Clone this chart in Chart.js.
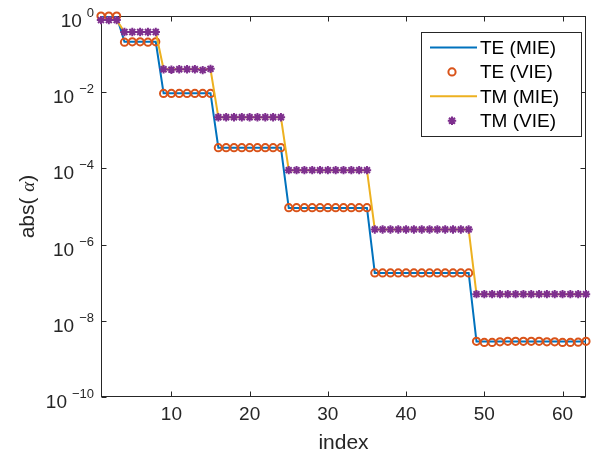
<!DOCTYPE html>
<html>
<head>
<meta charset="utf-8">
<script src="https://cdn.jsdelivr.net/npm/chart.js@4"></script>
<style>
  html, body { margin: 0; padding: 0; background: #fff; }
  canvas { display: block; }
</style>
</head>
<body>
<canvas id="c" width="601" height="457"></canvas>
<script>
// index values
const index = [1, 2, 3, 4, 5, 6, 7, 8, 9, 10, 11, 12, 13, 14, 15, 16, 17, 18, 19, 20,
  21, 22, 23, 24, 25, 26, 27, 28, 29, 30, 31, 32, 33, 34, 35, 36, 37, 38, 39, 40,
  41, 42, 43, 44, 45, 46, 47, 48, 49, 50, 51, 52, 53, 54, 55, 56, 57, 58, 59, 60,
  61, 62, 63];

// TE (MIE) - line
const teMie = [0.98, 0.98, 0.98,
  0.21, 0.21, 0.21, 0.21, 0.21,
  0.0094, 0.0094, 0.0094, 0.0094, 0.0094, 0.0094, 0.0094,
  3.5e-4, 3.5e-4, 3.5e-4, 3.5e-4, 3.5e-4, 3.5e-4, 3.5e-4, 3.5e-4, 3.5e-4,
  9.2e-6, 9.2e-6, 9.2e-6, 9.2e-6, 9.2e-6, 9.2e-6, 9.2e-6, 9.2e-6, 9.2e-6, 9.2e-6, 9.2e-6,
  1.8e-7, 1.8e-7, 1.8e-7, 1.8e-7, 1.8e-7, 1.8e-7, 1.8e-7, 1.8e-7, 1.8e-7, 1.8e-7, 1.8e-7, 1.8e-7, 1.8e-7,
  2.85e-9, 2.85e-9, 2.85e-9, 2.85e-9, 2.85e-9, 2.85e-9, 2.85e-9, 2.85e-9, 2.85e-9, 2.85e-9,
  2.85e-9, 2.85e-9, 2.85e-9, 2.85e-9, 2.85e-9];

// TE (VIE) - circles
const teVie = [1.0, 1.0, 1.0,
  0.205, 0.21, 0.21, 0.205, 0.21,
  0.0093, 0.0093, 0.0093, 0.0093, 0.0093, 0.0093, 0.0093,
  3.5e-4, 3.5e-4, 3.5e-4, 3.5e-4, 3.5e-4, 3.5e-4, 3.5e-4, 3.5e-4, 3.5e-4,
  9.3e-6, 9.3e-6, 9.3e-6, 9.3e-6, 9.3e-6, 9.3e-6, 9.3e-6, 9.3e-6, 9.3e-6, 9.3e-6, 9.3e-6,
  1.8e-7, 1.8e-7, 1.8e-7, 1.8e-7, 1.8e-7, 1.8e-7, 1.8e-7, 1.8e-7, 1.8e-7, 1.8e-7, 1.8e-7, 1.8e-7, 1.8e-7,
  2.9e-9, 2.7e-9, 2.7e-9, 2.8e-9, 2.9e-9, 2.9e-9, 2.9e-9, 2.9e-9, 2.9e-9, 2.8e-9,
  2.8e-9, 2.7e-9, 2.7e-9, 2.75e-9, 2.9e-9];

// TM (MIE) - line
const tmMie = [0.78, 0.78, 0.78,
  0.38, 0.38, 0.38, 0.38, 0.38,
  0.040, 0.040, 0.040, 0.040, 0.040, 0.040, 0.040,
  2.2e-3, 2.2e-3, 2.2e-3, 2.2e-3, 2.2e-3, 2.2e-3, 2.2e-3, 2.2e-3, 2.2e-3,
  9.0e-5, 9.0e-5, 9.0e-5, 9.0e-5, 9.0e-5, 9.0e-5, 9.0e-5, 9.0e-5, 9.0e-5, 9.0e-5, 9.0e-5,
  2.5e-6, 2.5e-6, 2.5e-6, 2.5e-6, 2.5e-6, 2.5e-6, 2.5e-6, 2.5e-6, 2.5e-6, 2.5e-6, 2.5e-6, 2.5e-6, 2.5e-6,
  5.0e-8, 5.0e-8, 5.0e-8, 5.0e-8, 5.0e-8, 5.0e-8, 5.0e-8, 5.0e-8, 5.0e-8, 5.0e-8,
  5.0e-8, 5.0e-8, 5.0e-8, 5.0e-8, 5.0e-8];

// TM (VIE) - asterisks
const tmVie = [0.78, 0.78, 0.78,
  0.38, 0.38, 0.38, 0.38, 0.38,
  0.040, 0.039, 0.040, 0.040, 0.040, 0.038, 0.041,
  2.2e-3, 2.2e-3, 2.2e-3, 2.2e-3, 2.2e-3, 2.2e-3, 2.2e-3, 2.2e-3, 2.2e-3,
  9.0e-5, 9.0e-5, 9.0e-5, 9.0e-5, 9.0e-5, 9.0e-5, 9.0e-5, 9.0e-5, 9.0e-5, 9.0e-5, 9.0e-5,
  2.5e-6, 2.5e-6, 2.5e-6, 2.5e-6, 2.5e-6, 2.5e-6, 2.5e-6, 2.5e-6, 2.5e-6, 2.5e-6, 2.5e-6, 2.5e-6, 2.5e-6,
  5.0e-8, 5.0e-8, 5.0e-8, 5.0e-8, 5.0e-8, 5.0e-8, 5.0e-8, 5.0e-8, 5.0e-8, 5.0e-8,
  5.0e-8, 5.0e-8, 5.0e-8, 5.0e-8, 5.0e-8];

const seriesNames = ['TE (MIE)', 'TE (VIE)', 'TM (MIE)', 'TM (VIE)'];
const xTicks = [10, 20, 30, 40, 50, 60];
const yTickExps = [0, -2, -4, -6, -8, -10];

const AXIS = '#262626';
const SANS = '"Liberation Sans", Arial, Helvetica, sans-serif';
const colors = ['#0072BD', '#D95319', '#EDB120', '#7E2F8E'];

const pts = arr => arr.map((v, i) => ({ x: index[i], y: v }));

// matlab-like box, inward ticks, y tick labels, y title and legend
const matlabAxes = {
  id: 'matlabAxes',
  beforeDatasetsDraw(chart) {
    const { ctx, chartArea: a, scales } = chart;
    ctx.save();
    ctx.strokeStyle = AXIS;
    ctx.lineWidth = 1;
    const L = Math.round(a.left) + 0.5, R = Math.round(a.right) - 0.5;
    const T = Math.round(a.top) + 0.5, B = Math.round(a.bottom) - 0.5;
    ctx.strokeRect(L, T, R - L, B - T);
    const tl = 5;
    ctx.beginPath();
    scales.x.ticks.forEach(t => {
      const px = Math.round(scales.x.getPixelForValue(t.value)) + 0.5;
      ctx.moveTo(px, B); ctx.lineTo(px, B - tl);
      ctx.moveTo(px, T); ctx.lineTo(px, T + tl);
    });
    scales.y.ticks.forEach(t => {
      const py = Math.round(scales.y.getPixelForValue(t.value)) + 0.5;
      ctx.moveTo(L, py); ctx.lineTo(L + tl, py);
      ctx.moveTo(R, py); ctx.lineTo(R - tl, py);
    });
    ctx.stroke();
    ctx.restore();
  },
  afterDraw(chart) {
    const { ctx, chartArea: a, scales } = chart;
    ctx.save();
    ctx.fillStyle = AXIS;
    ctx.textBaseline = 'alphabetic';

    // y tick labels 10^k
    const right = a.left - 7;
    scales.y.ticks.forEach(t => {
      const py = scales.y.getPixelForValue(t.value);
      const k = Math.round(Math.log10(t.value));
      const ex = k < 0 ? '\u2212' + (-k) : String(k);
      ctx.font = '13px ' + SANS;
      const ew = ctx.measureText(ex).width;
      ctx.textAlign = 'left';
      ctx.fillText(ex, right - ew, py + 1);
      ctx.font = '19px ' + SANS;
      ctx.textAlign = 'right';
      ctx.fillText('10', right - ew - 5, py + 11);
    });

    // y title: abs( alpha )
    const parts = [
      { s: 'abs( ', f: '21px ' + SANS },
      { s: '\u03b1', f: 'italic 19px "Liberation Serif", "Times New Roman", serif' },
      { s: ')', f: '21px ' + SANS }
    ];
    let tw = 0;
    parts.forEach(p => { ctx.font = p.f; p.w = ctx.measureText(p.s).width; tw += p.w; });
    ctx.translate(34, (a.top + a.bottom) / 2);
    ctx.rotate(-Math.PI / 2);
    let x0 = -tw / 2;
    ctx.textAlign = 'left';
    parts.forEach(p => { ctx.font = p.f; ctx.fillText(p.s, x0, 0); x0 += p.w; });
    ctx.setTransform(1, 0, 0, 1, 0, 0);

    // legend box
    const lx = 421.5, ly = 32.5, lw = 160, lh = 104;
    ctx.fillStyle = '#fff';
    ctx.fillRect(lx, ly, lw, lh);
    ctx.strokeStyle = AXIS;
    ctx.lineWidth = 1;
    ctx.strokeRect(lx, ly, lw, lh);
    ctx.font = '19px ' + SANS;
    ctx.textAlign = 'left';
    ctx.textBaseline = 'middle';
    chart.data.datasets.forEach((ds, i) => {
      const cy = 47.5 + i * 24.4;
      ctx.strokeStyle = ds.borderColor;
      ctx.beginPath();
      if (ds.showLine) {
        ctx.lineWidth = 2;
        ctx.moveTo(430, cy); ctx.lineTo(477, cy);
      } else if (ds.pointStyle === 'circle') {
        ctx.lineWidth = ds.pointBorderWidth;
        ctx.arc(452, cy, ds.pointRadius, 0, Math.PI * 2);
      } else {
        ctx.lineWidth = ds.pointBorderWidth;
        const r = ds.pointRadius;
        for (let k = 0; k < 4; k++) {
          const ang = k * Math.PI / 4;
          ctx.moveTo(452 - r * Math.cos(ang), cy - r * Math.sin(ang));
          ctx.lineTo(452 + r * Math.cos(ang), cy + r * Math.sin(ang));
        }
      }
      ctx.stroke();
      ctx.fillStyle = '#000';
      ctx.fillText(ds.label, 480, cy + 1);
    });
    ctx.restore();
  }
};

new Chart(document.getElementById('c'), {
  type: 'line',
  data: {
    datasets: [
      {
        label: seriesNames[0], data: pts(teMie), order: 4,
        borderColor: colors[0], borderWidth: 2, showLine: true,
        pointRadius: 0, fill: false
      },
      {
        label: seriesNames[1], data: pts(teVie), order: 3,
        showLine: false, borderColor: colors[1], backgroundColor: 'rgba(0,0,0,0)',
        pointStyle: 'circle', pointRadius: 3.6, pointBorderWidth: 2,
        pointBackgroundColor: 'rgba(0,0,0,0)', pointBorderColor: colors[1], clip: false
      },
      {
        label: seriesNames[2], data: pts(tmMie), order: 2,
        borderColor: colors[2], borderWidth: 2, showLine: true,
        pointRadius: 0, fill: false
      },
      {
        label: seriesNames[3], data: pts(tmVie), order: 1,
        showLine: false, borderColor: colors[3], backgroundColor: colors[3],
        pointStyle: 'star', pointRadius: 4.2, pointBorderWidth: 2,
        pointBorderColor: colors[3], clip: false
      }
    ]
  },
  options: {
    responsive: false,
    animation: false,
    devicePixelRatio: 1,
    layout: { padding: { top: 16, right: 15, left: 0, bottom: 0 } },
    plugins: { legend: { display: false }, tooltip: { enabled: false } },
    elements: { line: { tension: 0 } },
    scales: {
      x: {
        type: 'linear', min: 1, max: 63,
        afterBuildTicks: s => { s.ticks = xTicks.map(v => ({ value: v })); },
        afterFit: s => { s.height = 60; },
        grid: { display: false },
        border: { display: false },
        ticks: { color: AXIS, font: { family: SANS, size: 19 }, padding: -2, maxRotation: 0 },
        title: {
          display: true, text: 'index', color: AXIS,
          font: { family: SANS, size: 21 }, padding: { top: 0, bottom: 1 }
        }
      },
      y: {
        type: 'logarithmic', min: 1e-10, max: 1,
        afterBuildTicks: s => { s.ticks = yTickExps.map(k => ({ value: Math.pow(10, k) })); },
        afterFit: s => { s.width = 101; },
        grid: { display: false },
        border: { display: false },
        ticks: { display: false }
      }
    }
  },
  plugins: [matlabAxes]
});
</script>
</body>
</html>
